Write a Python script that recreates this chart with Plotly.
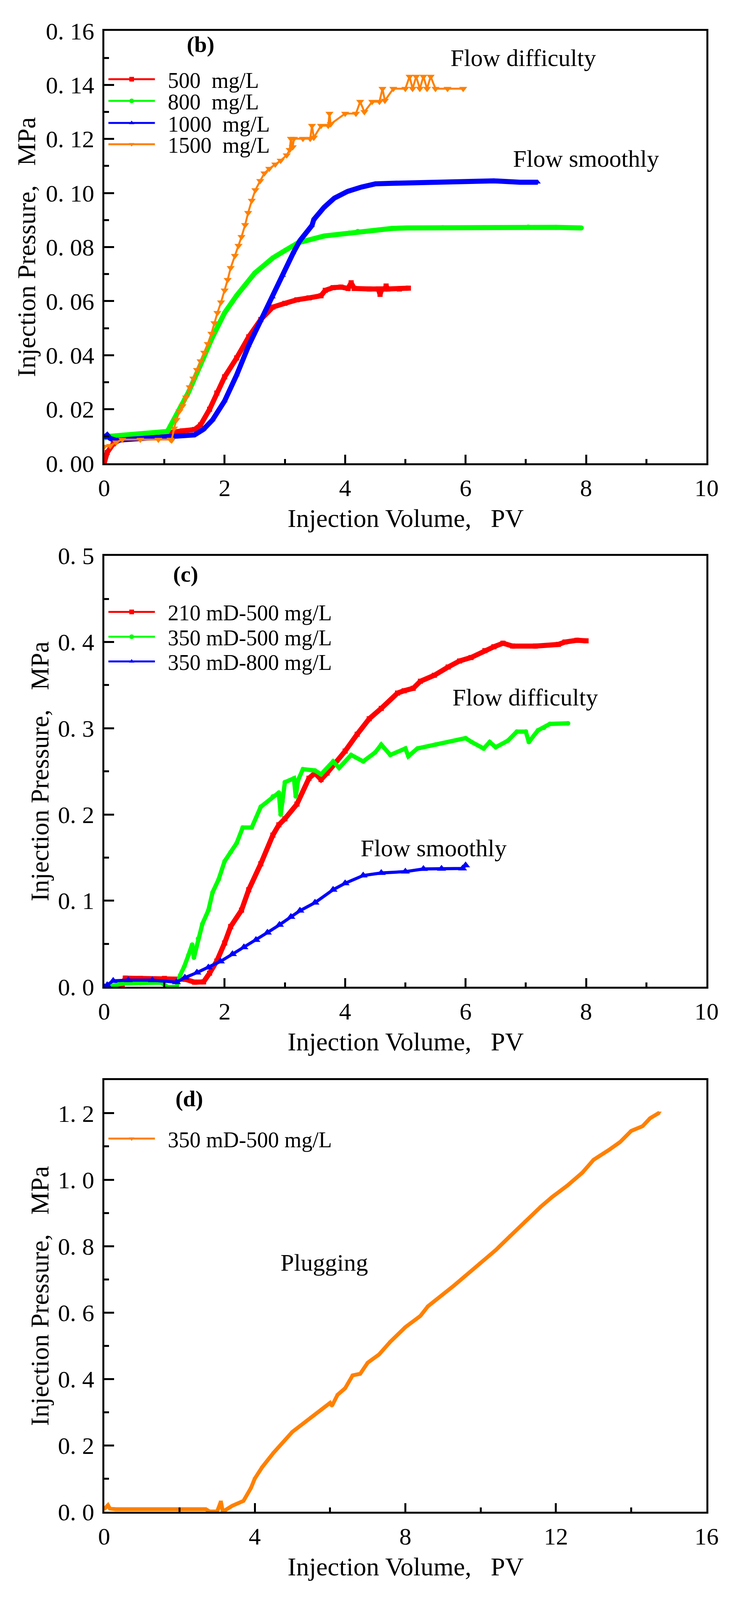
import plotly.graph_objects as go

# ---- panel (b): concentration series ----
b_x_500 = [0, 0.05, 0.15, 0.27, 0.5, 0.8, 1.0, 1.3, 1.5, 1.6, 1.75, 1.87, 2.0, 2.2, 2.4, 2.6, 2.8, 3.0,
           3.2, 3.4, 3.6, 3.67, 3.8, 3.93, 4.05, 4.10, 4.15, 4.4, 4.55, 4.58, 4.61, 4.66, 4.68, 4.71, 4.9, 5.05]
b_y_500 = [0, 0.004, 0.0072, 0.0088, 0.0095, 0.0105, 0.0114, 0.0120, 0.0125, 0.0142, 0.0200, 0.0260, 0.032,
           0.039, 0.0468, 0.0532, 0.0578, 0.0592, 0.0605, 0.0612, 0.0620, 0.0640, 0.0650, 0.0652, 0.0647,
           0.0668, 0.0647, 0.0645, 0.0645, 0.0625, 0.0645, 0.0645, 0.0656, 0.0645, 0.0645, 0.0648]

b_x_800 = [0.02, 0.1, 0.3, 0.6, 0.9, 1.05, 1.2, 1.4, 1.6, 1.8, 2.0, 2.2, 2.5, 2.8, 3.0, 3.22, 3.65, 4.07,
           4.21, 4.78, 5.03, 5.62, 6.3, 7.04, 7.5, 7.92]
b_y_800 = [0.0095, 0.0100, 0.0104, 0.0108, 0.0113, 0.0118, 0.018, 0.0263, 0.0365, 0.0468, 0.0557, 0.0621,
           0.0704, 0.0760, 0.0787, 0.0816, 0.0841, 0.0852, 0.0858, 0.0869, 0.0871, 0.0872, 0.0872, 0.0874,
           0.0873, 0.0871]

b_x_1000 = [0, 0.05, 0.1, 0.2, 0.5, 1.0, 1.5, 1.65, 1.8, 2.0, 2.2, 2.4, 2.6, 2.8, 2.97, 3.14, 3.25, 3.45,
            3.48, 3.65, 3.82, 4.04, 4.27, 4.50, 4.78, 5.2, 5.62, 6.0, 6.47, 6.9, 7.2]
b_y_1000 = [0.0095, 0.0105, 0.0092, 0.0085, 0.0090, 0.0098, 0.0105, 0.0126, 0.0161, 0.0231, 0.0327, 0.0436,
            0.0530, 0.0615, 0.0695, 0.0779, 0.0824, 0.0880, 0.0902, 0.0947, 0.0981, 0.1006, 0.1022, 0.1034,
            0.1036, 0.1038, 0.1040, 0.1042, 0.1045, 0.1040, 0.1040]

b_x_1500 = [0, 0.1, 0.2, 0.3, 0.6, 0.9, 1.1, 1.12, 1.16, 1.2, 1.25, 1.30, 1.36, 1.42, 1.48, 1.54, 1.60,
            1.66, 1.72, 1.78, 1.83, 1.88, 1.94, 2.0, 2.05, 2.10, 2.17, 2.23, 2.28, 2.34, 2.39, 2.45, 2.51,
            2.59, 2.66, 2.74, 2.84, 2.93, 3.03, 3.08, 3.10, 3.13, 3.15, 3.3, 3.42, 3.45, 3.48, 3.6, 3.72,
            3.74, 3.76, 4.0, 4.18, 4.25, 4.32, 4.45, 4.57, 4.62, 4.66, 4.8, 5.0, 5.07, 5.12, 5.18, 5.24,
            5.3, 5.36, 5.42, 5.5, 5.7, 5.96]
b_y_1500 = [0.0062, 0.0065, 0.0078, 0.0088, 0.0088, 0.0088, 0.0088, 0.0085, 0.0129, 0.0161, 0.0193, 0.0212,
            0.0244, 0.0282, 0.0314, 0.0346, 0.0378, 0.0410, 0.0442, 0.0480, 0.0519, 0.0557, 0.0596, 0.0640,
            0.0679, 0.0723, 0.0768, 0.0805, 0.0838, 0.0882, 0.0927, 0.0972, 0.1011, 0.1045, 0.1073, 0.1090,
            0.1106, 0.1120, 0.1140, 0.1160, 0.1201, 0.1170, 0.1201, 0.1201, 0.1201, 0.1249, 0.1205, 0.1249,
            0.1249, 0.1294, 0.1255, 0.1294, 0.1294, 0.1338, 0.1300, 0.1338, 0.1338, 0.1386, 0.1342, 0.1386,
            0.1386, 0.1431, 0.1386, 0.1431, 0.1386, 0.1431, 0.1386, 0.1431, 0.1386, 0.1386, 0.1386]

# ---- panel (c): permeability / concentration ----
c_x_210_500 = [0.2, 0.3, 0.35, 0.6, 1.0, 1.35, 1.5, 1.65, 1.75, 1.87, 2.0, 2.1, 2.28, 2.4, 2.6, 2.8, 2.9,
               3.0, 3.2, 3.4, 3.5, 3.6, 3.7, 4.0, 4.2, 4.4, 4.6, 4.87, 4.98, 5.13, 5.25, 5.48, 5.71, 5.9,
               6.09, 6.32, 6.47, 6.62, 6.78, 7.16, 7.54, 7.65, 7.85, 8.0]
c_y_210_500 = [0.0, 0.002, 0.0102, 0.0100, 0.0098, 0.0088, 0.0055, 0.0058, 0.016, 0.030, 0.051, 0.070,
               0.089, 0.1127, 0.1428, 0.176, 0.188, 0.195, 0.212, 0.242, 0.248, 0.2405, 0.248, 0.2735,
               0.293, 0.311, 0.323, 0.3408, 0.3435, 0.3463, 0.3545, 0.3614, 0.371, 0.378, 0.382, 0.390,
               0.3945, 0.3986, 0.3953, 0.3953, 0.3972, 0.40, 0.402, 0.4014]

c_x_350_500 = [0.05, 0.12, 0.3, 0.6, 0.95, 1.05, 1.2, 1.26, 1.33, 1.40, 1.46, 1.49, 1.56, 1.63, 1.73, 1.8,
               1.9, 2.0, 2.1, 2.2, 2.3, 2.45, 2.6, 2.8, 2.9, 2.93, 2.96, 3.0, 3.15, 3.18, 3.22, 3.3, 3.5,
               3.6, 3.8, 3.9, 4.1, 4.3, 4.5, 4.6, 4.75, 5.0, 5.05, 5.2, 5.5, 6.0, 6.1, 6.3, 6.4, 6.5, 6.7,
               6.85, 7.0, 7.05, 7.2, 7.3, 7.4, 7.7]
c_y_350_500 = [0.0, 0.001, 0.004, 0.0045, 0.005, 0.0, 0.0, 0.0134, 0.0237, 0.037, 0.049, 0.034, 0.056,
               0.073, 0.0888, 0.1097, 0.1247, 0.1458, 0.1563, 0.1668, 0.1848, 0.1848, 0.2089, 0.2209,
               0.2254, 0.1999, 0.215, 0.2374, 0.2419, 0.221, 0.240, 0.2525, 0.251, 0.2465, 0.2615, 0.254,
               0.269, 0.2615, 0.272, 0.281, 0.269, 0.2765, 0.2675, 0.2765, 0.281, 0.2885, 0.284, 0.2765,
               0.284, 0.278, 0.2855, 0.296, 0.296, 0.284, 0.2975, 0.3006, 0.305, 0.3057]

c_x_350_800 = [0, 0.05, 0.15, 0.4, 0.8, 1.2, 1.34, 1.54, 1.73, 1.93, 2.13, 2.32, 2.52, 2.71, 2.91, 3.10,
               3.25, 3.5, 3.8, 4.0, 4.3, 4.6, 5.0, 5.3, 5.6, 5.95, 6.0]
c_y_350_800 = [0.0, 0.002, 0.007, 0.0078, 0.0078, 0.0055, 0.0107, 0.0166, 0.0225, 0.0296, 0.038, 0.046,
               0.0545, 0.063, 0.072, 0.0812, 0.0884, 0.0977, 0.1127, 0.1202, 0.1292, 0.1322, 0.1337,
               0.1368, 0.1370, 0.1374, 0.141]

# ---- panel (d): plugging case ----
d_x_350_500 = [0, 0.1, 0.15, 0.3, 1.0, 2.0, 2.7, 2.8, 3.0, 3.1, 3.15, 3.2, 3.4, 3.6, 3.7, 3.9, 4.0, 4.2,
               4.5, 5.0, 5.5, 6.0, 6.05, 6.2, 6.4, 6.6, 6.8, 7.0, 7.3, 7.6, 8.0, 8.4, 8.6, 9.0, 9.3, 9.6,
               10.0, 10.4, 10.8, 11.2, 11.6, 11.9, 12.3, 12.7, 13.0, 13.4, 13.7, 14.0, 14.3, 14.5, 14.75]
d_y_350_500 = [0.008, 0.02, 0.01, 0.008, 0.008, 0.008, 0.008, 0.001, 0.001, 0.031, 0.001, 0.004, 0.018,
               0.028, 0.033, 0.072, 0.1, 0.135, 0.178, 0.241, 0.285, 0.328, 0.319, 0.3525, 0.372, 0.411,
               0.4155, 0.449, 0.4736, 0.512, 0.556, 0.59, 0.619, 0.653, 0.682, 0.711, 0.75, 0.788, 0.832,
               0.876, 0.919, 0.948, 0.982, 1.021, 1.06, 1.089, 1.113, 1.147, 1.161, 1.185, 1.202]

# tick labels
b_yticks = [0, 0.02, 0.04, 0.06, 0.08, 0.10, 0.12, 0.14, 0.16]
b_yticktext = ["0. 00", "0. 02", "0. 04", "0. 06", "0. 08", "0. 10", "0. 12", "0. 14", "0. 16"]
c_yticks = [0, 0.1, 0.2, 0.3, 0.4, 0.5]
c_yticktext = ["0. 0", "0. 1", "0. 2", "0. 3", "0. 4", "0. 5"]
d_yticks = [0, 0.2, 0.4, 0.6, 0.8, 1.0, 1.2]
d_yticktext = ["0. 0", "0. 2", "0. 4", "0. 6", "0. 8", "1. 0", "1. 2"]

# reference frame is 1894 x 4639; the photo only keeps ~4096 px of height,
# so the figure is drawn a bit shorter and every position is a paper fraction
W, H = 1894, 4639
HF = 4090
RED, GREEN, BLUE, ORANGE = "#ff0000", "#00ff00", "#0000ff", "#ff8000"
SERIF = "Liberation Serif"
NB = "\u00a0"

fig = go.Figure()


def add(x, y, name, color, symbol, msize, lw, xa, ya, leg):
    fig.add_trace(go.Scatter(
        x=x, y=y, name=name, mode="lines+markers", xaxis=xa, yaxis=ya, legend=leg,
        line=dict(color=color, width=lw),
        marker=dict(color=color, symbol=symbol, size=msize, line=dict(width=0)),
    ))


add(b_x_500, b_y_500, NB * 2 + "500" + NB * 2 + "mg/L", RED, "square", 13, 13, "x", "y", "legend")
add(b_x_800, b_y_800, NB * 2 + "800" + NB * 2 + "mg/L", GREEN, "circle", 13, 13, "x", "y", "legend2")
add(b_x_1000, b_y_1000, NB * 2 + "1000" + NB * 2 + "mg/L", BLUE, "triangle-up", 13, 13, "x", "y", "legend3")
add(b_x_1500, b_y_1500, NB * 2 + "1500" + NB * 2 + "mg/L", ORANGE, "triangle-down", 18, 5, "x", "y", "legend4")

add(c_x_210_500, c_y_210_500, NB * 2 + "210 mD-500 mg/L", RED, "square", 13, 13, "x2", "y2", "legend5")
add(c_x_350_500, c_y_350_500, NB * 2 + "350 mD-500 mg/L", GREEN, "circle", 12, 11, "x2", "y2", "legend6")
add(c_x_350_800, c_y_350_800, NB * 2 + "350 mD-800 mg/L", BLUE, "triangle-up", 20, 8, "x2", "y2", "legend7")

add(d_x_350_500, d_y_350_500, NB * 2 + "350 mD-500 mg/L", ORANGE, "triangle-down", 10, 10, "x3", "y3", "legend8")

# plot areas in reference pixels (left, right / top, bottom)
XL, XR = 257, 1838
panels = [(53, 1330), (1603, 2876), (3151, 4426)]
ytitle_x = [53, 88, 88]


def ydom(top, bot):
    return [1 - bot / H, 1 - top / H]


def axis_style(ticklen, minorlen):
    return dict(
        showline=True, linewidth=5, linecolor="black", mirror=True,
        ticks="inside", ticklen=ticklen, tickwidth=5, tickcolor="black",
        showgrid=False, zeroline=False,
        tickfont=dict(family=SERIF, size=62, color="black"),
        minor=dict(ticks="inside", ticklen=minorlen, tickwidth=5, tickcolor="black", showgrid=False),
    )


xs = axis_style(22, 11)
ys = axis_style(25, 12)
xdom = [XL / W, XR / W]
fig.update_layout(
    xaxis=dict(domain=xdom, anchor="y", range=[0, 10], tickvals=[0, 2, 4, 6, 8, 10], **xs),
    yaxis=dict(domain=ydom(*panels[0]), anchor="x", range=[0, 0.16],
               tickvals=b_yticks, ticktext=b_yticktext, **ys),
    xaxis2=dict(domain=xdom, anchor="y2", range=[0, 10], tickvals=[0, 2, 4, 6, 8, 10], **xs),
    yaxis2=dict(domain=ydom(*panels[1]), anchor="x2", range=[0, 0.5],
                tickvals=c_yticks, ticktext=c_yticktext, **ys),
    xaxis3=dict(domain=xdom, anchor="y3", range=[0, 16], tickvals=[0, 4, 8, 12, 16], **xs),
    yaxis3=dict(domain=ydom(*panels[2]), anchor="x3", range=[0, 1.3],
                tickvals=d_yticks, ticktext=d_yticktext, **ys),
)
fig.update_layout(
    xaxis_minor_dtick=1, xaxis2_minor_dtick=1, xaxis3_minor_dtick=2,
    yaxis_minor_dtick=0.01, yaxis2_minor_dtick=0.05, yaxis3_minor_dtick=0.1,
    xaxis_ticklabelstandoff=4, xaxis2_ticklabelstandoff=4, xaxis3_ticklabelstandoff=4,
    yaxis_ticklabelstandoff=8, yaxis2_ticklabelstandoff=8, yaxis3_ticklabelstandoff=8,
)

# one legend per entry so each row sits where the original has it
legend_rows = [("legend", 196), ("legend2", 260), ("legend3", 325), ("legend4", 388),
               ("legend5", 1769), ("legend6", 1842), ("legend7", 1915), ("legend8", 3324)]
for key, row in legend_rows:
    fig.update_layout({key: dict(
        x=263 / W, y=1 - row / H, xanchor="left", yanchor="middle",
        bgcolor="rgba(0,0,0,0)", borderwidth=0, itemwidth=119, itemsizing="constant",
        font=dict(family=SERIF, size=56, color="black"),
    )})

ann = []
# axis titles
for (top, bot), tx in zip(panels, ytitle_x):
    ann.append(dict(text="Injection Volume," + NB * 3 + "PV", xref="paper", yref="paper",
                    x=(XL + XR) / 2 / W, y=1 - (bot + 162) / H, xanchor="center", yanchor="middle",
                    showarrow=False, font=dict(family=SERIF, size=66, color="black")))
    ann.append(dict(text="Injection Pressure," + NB * 3 + "MPa", xref="paper", yref="paper",
                    x=tx / W, y=1 - (top + bot) / 2 / H, xanchor="center", yanchor="middle",
                    textangle=-90, showarrow=False,
                    font=dict(family=SERIF, size=66, color="black")))

labels = [
    ("<b>(b)</b>", "x", "y", 1.6, 0.155, 58),
    ("Flow difficulty", "x", "y", 6.96, 0.150, 62),
    ("Flow smoothly", "x", "y", 8.0, 0.1128, 62),
    ("<b>(c)</b>", "x2", "y2", 1.35, 0.479, 58),
    ("Flow difficulty", "x2", "y2", 6.99, 0.336, 62),
    ("Flow smoothly", "x2", "y2", 5.47, 0.161, 62),
    ("<b>(d)</b>", "x3", "y3", 2.26, 1.244, 58),
    ("Plugging", "x3", "y3", 5.85, 0.751, 62),
]
for text, xr, yr, x, y, size in labels:
    ann.append(dict(text=text, xref=xr, yref=yr, x=x, y=y, xanchor="center", yanchor="middle",
                    showarrow=False, font=dict(family=SERIF, size=size, color="black")))

fig.update_layout(
    width=W, height=HF, margin=dict(l=0, r=0, t=0, b=0),
    paper_bgcolor="white", plot_bgcolor="white",
    annotations=ann, showlegend=True,
)

fig.write_html("out.html", config={"displayModeBar": False},
               post_script="document.body.style.margin = '0px';")
